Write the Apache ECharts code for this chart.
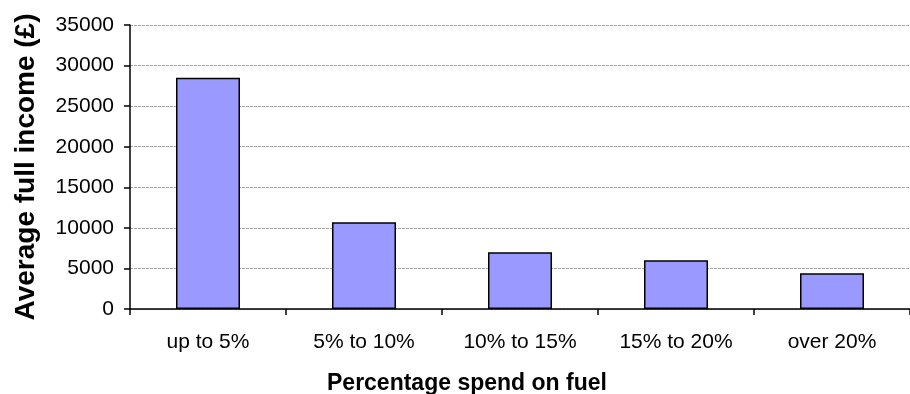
<!DOCTYPE html>
<html>
<head>
<meta charset="utf-8">
<script src="https://cdn.jsdelivr.net/npm/echarts@6/dist/echarts.min.js"></script>
<style>
  html, body { margin: 0; padding: 0; background: #ffffff; }
  #chart { width: 910px; height: 394px; }
</style>
</head>
<body>
<div id="chart"></div>
<script>
// Fuel spend bands and the average full income of each band
const categories = ['up to 5%', '5% to 10%', '10% to 15%', '15% to 20%', 'over 20%'];
const incomeValues = [28500, 10700, 7000, 6000, 4400];
const yTicks = [0, 5000, 10000, 15000, 20000, 25000, 30000, 35000];

const yTitle = 'Average full income (£)';
const xTitle = 'Percentage spend on fuel';

const chart = echarts.init(document.getElementById('chart'), null, { renderer: 'canvas' });
const font = 'Arial, "Liberation Sans", Helvetica, sans-serif';

chart.setOption({
  animation: false,
  backgroundColor: '#ffffff',
  grid: { left: 130, top: 25, width: 788, height: 284 },
  xAxis: {
    type: 'category',
    data: categories,
    boundaryGap: true,
    axisLine: { lineStyle: { color: '#000000', width: 1.5 } },
    axisTick: { show: true, length: 6, alignWithLabel: false, lineStyle: { color: '#000000', width: 1.5 } },
    axisLabel: { color: '#000000', fontFamily: font, fontSize: 21, margin: 23 }
  },
  yAxis: {
    type: 'value',
    min: yTicks[0],
    max: yTicks[yTicks.length - 1],
    interval: yTicks[1] - yTicks[0],
    name: yTitle,
    nameLocation: 'middle',
    nameGap: 90,
    nameTextStyle: { color: '#000000', fontFamily: font, fontSize: 28, fontWeight: 'bold' },
    axisLine: { show: true, lineStyle: { color: '#000000', width: 1.5 } },
    axisTick: { show: true, length: 6, lineStyle: { color: '#000000', width: 1.5 } },
    axisLabel: {
      color: '#000000', fontFamily: font, fontSize: 21, margin: 16,
      formatter: function (v) { return String(v); }
    },
    splitLine: { show: true, lineStyle: { color: '#a8a8a8', type: [3, 1], width: 1 } }
  },
  graphic: [{
    type: 'text',
    left: 327,
    top: 372,
    style: {
      text: xTitle,
      fill: '#000000',
      font: 'bold 23px ' + font
    }
  }],
  series: [{
    type: 'bar',
    data: incomeValues,
    barWidth: 64,
    itemStyle: { color: '#9999ff', borderColor: '#000000', borderWidth: 1.5 }
  }]
});
</script>
</body>
</html>
